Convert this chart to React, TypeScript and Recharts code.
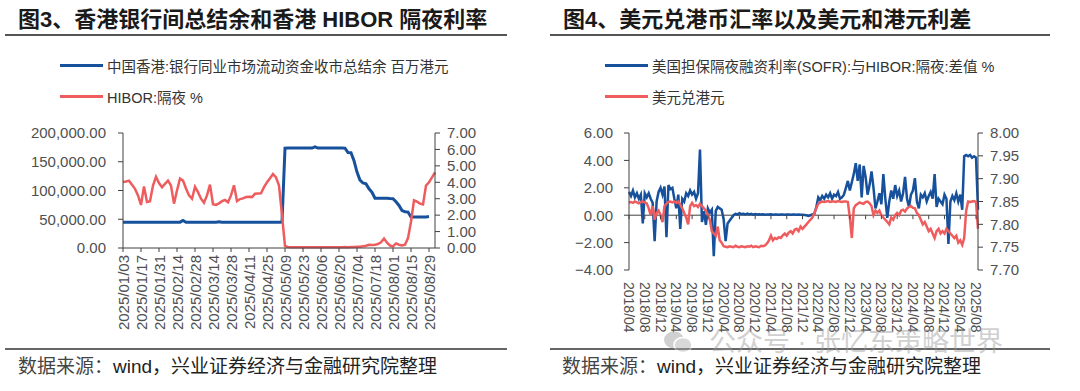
import React from "react"
import { LineChart, Line, XAxis, YAxis, ReferenceLine } from "recharts"

const FONT = '"Liberation Sans", Arial, "Noto Sans CJK SC", sans-serif'
const BLUE = "#17519C"
const RED = "#EE5C5E"
const AXIS = "#404040"
const TICK = "#505050"

// ---- 图3: HK aggregate balance vs HIBOR overnight (Mon/Wed/Fri samples) ----
const dates1 = [
  "2025/01/03", "2025/01/06", "2025/01/08", "2025/01/10", "2025/01/13", "2025/01/15", "2025/01/17", "2025/01/20", "2025/01/22", "2025/01/24", "2025/01/27", "2025/01/29", "2025/01/31",
  "2025/02/03", "2025/02/05", "2025/02/07", "2025/02/10", "2025/02/12", "2025/02/14", "2025/02/17", "2025/02/19", "2025/02/21", "2025/02/24", "2025/02/26", "2025/02/28",
  "2025/03/03", "2025/03/05", "2025/03/07", "2025/03/10", "2025/03/12", "2025/03/14", "2025/03/17", "2025/03/19", "2025/03/21", "2025/03/24", "2025/03/26", "2025/03/28", "2025/03/31",
  "2025/04/02", "2025/04/04", "2025/04/07", "2025/04/09", "2025/04/11", "2025/04/14", "2025/04/16", "2025/04/18", "2025/04/21", "2025/04/23", "2025/04/25", "2025/04/28", "2025/04/30",
  "2025/05/02", "2025/05/05", "2025/05/07", "2025/05/09", "2025/05/12", "2025/05/14", "2025/05/16", "2025/05/19", "2025/05/21", "2025/05/23", "2025/05/26", "2025/05/28", "2025/05/30",
  "2025/06/02", "2025/06/04", "2025/06/06", "2025/06/09", "2025/06/11", "2025/06/13", "2025/06/16", "2025/06/18", "2025/06/20", "2025/06/23", "2025/06/25", "2025/06/27", "2025/06/30",
  "2025/07/02", "2025/07/04", "2025/07/07", "2025/07/09", "2025/07/11", "2025/07/14", "2025/07/16", "2025/07/18", "2025/07/21", "2025/07/23", "2025/07/25", "2025/07/28", "2025/07/30",
  "2025/08/01", "2025/08/04", "2025/08/06", "2025/08/08", "2025/08/11", "2025/08/13", "2025/08/15", "2025/08/18", "2025/08/20", "2025/08/22", "2025/08/25", "2025/08/27", "2025/08/29",
  "2025/09/01", "2025/09/03",
]

const balance = [
  44800, 44750, 44800, 44900, 44800, 44700, 44800, 44850, 44800, 44750, 44800, 44900, 44800,
  44800, 44750, 44800, 44850, 44800, 44800, 44900, 47800, 44800, 44750, 44800, 44800,
  44800, 44850, 44800, 44750, 44800, 44800, 44900, 45600, 44800, 44750, 44800, 44800, 44800,
  44800, 44750, 44800, 44800, 44850, 44800, 44800, 44750, 44800, 44800, 44800, 44850, 44800,
  44800, 44800, 45000, 173500, 173800, 173800, 173700, 173800, 173800, 173900, 173800, 173800, 173800,
  176000, 173800, 173800, 173700, 173800, 173800, 173800, 173800, 173800, 173700, 173600, 166000, 165800,
  152000, 132000, 118000, 113000, 111500, 103000, 97000, 86500, 86500, 86500, 86500, 86500, 86000,
  85800, 80500, 74000, 65000, 63000, 62500, 54000, 53800, 53900, 54000, 54000, 54100, 54900,
  null, null,
]

const hibor = [
  4.02, 4.05, 4.1, 3.85, 3.6, 3.2, 2.62, 3.75, 2.8, 2.85, 3.8, 4.33, 3.95,
  3.7, 3.9, 4.1, 3.8, 2.7, 3.5, 4.23, 4.1, 3.62, 3.2, 3.0, 3.72,
  3.4, 3.0, 2.75, 3.2, 3.86, 2.66, 2.62, 2.72, 2.85, 2.92, 2.78, 3.2, 3.82,
  2.85, 2.98, 3.02, 3.1, 3.12, 3.1, 3.3, 3.32, 3.33, 3.7, 4.0, 4.25, 4.5,
  4.3, 3.8, 2.0, 0.12, 0.06, 0.05, 0.04, 0.05, 0.05, 0.04, 0.05, 0.05, 0.04,
  0.05, 0.05, 0.04, 0.05, 0.05, 0.04, 0.05, 0.05, 0.04, 0.05, 0.06, 0.05, 0.06,
  0.06, 0.07, 0.08, 0.1, 0.14, 0.2, 0.18, 0.2, 0.24, 0.35, 0.58, 0.32, 0.15,
  0.1, 0.28, 0.2, 0.15, 0.2, 0.6, 1.6, 2.9, 2.82, 2.7, 2.65, 3.8, 4.0,
  4.3, 4.6,
]

const balanceTicks = [0, 50000, 100000, 150000, 200000]
const hiborTicks = [0, 1, 2, 3, 4, 5, 6, 7]

// ---- 图4: SOFR-HIBOR spread vs USD/HKD (semi-monthly samples) ----
const dates2 = [
  "2018-04-01", "2018-04-16", "2018-05-01", "2018-05-16", "2018-06-01", "2018-06-16", "2018-07-01", "2018-07-16", "2018-08-01", "2018-08-16", "2018-09-01", "2018-09-16",
  "2018-10-01", "2018-10-16", "2018-11-01", "2018-11-16", "2018-12-01", "2018-12-16",
  "2019-01-01", "2019-01-16", "2019-02-01", "2019-02-16", "2019-03-01", "2019-03-16", "2019-04-01", "2019-04-16", "2019-05-01", "2019-05-16", "2019-06-01", "2019-06-16",
  "2019-07-01", "2019-07-16", "2019-08-01", "2019-08-16", "2019-09-01", "2019-09-16", "2019-10-01", "2019-10-16", "2019-11-01", "2019-11-16", "2019-12-01", "2019-12-16",
  "2020-01-01", "2020-01-16", "2020-02-01", "2020-02-16", "2020-03-01", "2020-03-16", "2020-04-01", "2020-04-16", "2020-05-01", "2020-05-16", "2020-06-01", "2020-06-16",
  "2020-07-01", "2020-07-16", "2020-08-01", "2020-08-16", "2020-09-01", "2020-09-16", "2020-10-01", "2020-10-16", "2020-11-01", "2020-11-16", "2020-12-01", "2020-12-16",
  "2021-01-01", "2021-01-16", "2021-02-01", "2021-02-16", "2021-03-01", "2021-03-16", "2021-04-01", "2021-04-16", "2021-05-01", "2021-05-16", "2021-06-01", "2021-06-16",
  "2021-07-01", "2021-07-16", "2021-08-01", "2021-08-16", "2021-09-01", "2021-09-16", "2021-10-01", "2021-10-16", "2021-11-01", "2021-11-16", "2021-12-01", "2021-12-16",
  "2022-01-01", "2022-01-16", "2022-02-01", "2022-02-16", "2022-03-01", "2022-03-16", "2022-04-01", "2022-04-16", "2022-05-01", "2022-05-16", "2022-06-01", "2022-06-16",
  "2022-07-01", "2022-07-16", "2022-08-01", "2022-08-16", "2022-09-01", "2022-09-16", "2022-10-01", "2022-10-16", "2022-11-01", "2022-11-16", "2022-12-01", "2022-12-16",
  "2023-01-01", "2023-01-16", "2023-02-01", "2023-02-16", "2023-03-01", "2023-03-16", "2023-04-01", "2023-04-16", "2023-05-01", "2023-05-16", "2023-06-01", "2023-06-16",
  "2023-07-01", "2023-07-16", "2023-08-01", "2023-08-16", "2023-09-01", "2023-09-16", "2023-10-01", "2023-10-16", "2023-11-01", "2023-11-16", "2023-12-01", "2023-12-16",
  "2024-01-01", "2024-01-16", "2024-02-01", "2024-02-16", "2024-03-01", "2024-03-16", "2024-04-01", "2024-04-16", "2024-05-01", "2024-05-16", "2024-06-01", "2024-06-16",
  "2024-07-01", "2024-07-16", "2024-08-01", "2024-08-16", "2024-09-01", "2024-09-16", "2024-10-01", "2024-10-16", "2024-11-01", "2024-11-16", "2024-12-01", "2024-12-16",
  "2025-01-01", "2025-01-16", "2025-02-01", "2025-02-16", "2025-03-01", "2025-03-16", "2025-04-01", "2025-04-16", "2025-05-01", "2025-05-16", "2025-06-01", "2025-06-16",
  "2025-07-01", "2025-07-16", "2025-08-01", "2025-08-16",
]

const spread = [
  1.7, 1.4, 1.8, 1.3, 1.6, 1.2, 1.5, -0.6, 1.6, 1.3,
  1.6, 1.2, 0.9, -1.9, 1.0, 1.7, 2.0, 1.5, 2.1, -1.6,
  2.2, 1.9, 2.0, 1.2, 0.5, 1.5, -1.0, 1.2, 1.0, 1.6,
  1.4, 1.8, 1.5, 1.7, 1.2, 1.6, 4.8, -0.5, 0.3, -0.7,
  0.5, 0.2, 0.4, -3.0, 0.3, 0.6, 0.5, 0.4, -0.3, -1.9,
  -0.6, -0.4, -0.2, 0.0, 0.1, 0.05, 0.15, 0.08, 0.1, 0.05,
  0.12, 0.06, 0.1, 0.04, 0.08, 0.05, 0.07, 0.05, 0.06, 0.04,
  0.05, 0.05, 0.06, 0.04, 0.05, 0.05, 0.04, 0.05, 0.05, 0.04,
  0.05, 0.05, 0.04, 0.05, 0.05, 0.04, 0.05, 0.04, 0.03, 0.02,
  0.0, -0.05, 0.0, 0.05, 0.1, 0.6, 1.3, 1.1, 1.4, 1.2,
  1.5, 1.3, 1.6, 1.2, 1.5, 1.4, 1.7, 1.2, 1.3, 1.5,
  2.0, 2.5, 1.8, 2.4, 3.0, 3.8, 2.5, 3.7, 1.3, 3.6,
  2.8, 1.5, 2.2, 3.2, 2.0, 0.5, 1.0, 1.6, 0.8, 3.0,
  1.2, -0.2, 1.0, 1.8, 1.2, 2.2, 1.4, 1.8, 1.0, 1.6,
  2.8, 1.2, 0.6, 1.5, 1.8, 2.7, 1.0, 0.5, 1.5, 1.3,
  1.6, 1.0, 1.4, 1.7, 1.2, 3.0, 0.6, 1.2, 1.0, 0.8,
  1.5, 1.2, -2.1, 1.0, 1.4, 1.1, 1.6, 1.0, 1.5, 0.4,
  4.3, 4.4, 4.3, 4.4, 4.2, 4.3, 4.2, 0.4,
]

const usdhkd = [
  7.848, 7.849, 7.847, 7.85, 7.848, 7.846, 7.849, 7.85, 7.848, 7.846,
  7.835, 7.82, 7.84, 7.81, 7.825, 7.83, 7.82, 7.805, 7.84, 7.845,
  7.849, 7.85, 7.848, 7.85, 7.847, 7.85, 7.843, 7.835, 7.825, 7.815,
  7.8, 7.84, 7.847, 7.84, 7.842, 7.838, 7.845, 7.84, 7.835, 7.83,
  7.82, 7.81, 7.785, 7.78, 7.775, 7.795, 7.765, 7.76, 7.752, 7.751,
  7.75, 7.752, 7.751, 7.75, 7.753, 7.751, 7.75, 7.752, 7.751, 7.75,
  7.752, 7.751, 7.753, 7.75, 7.752, 7.751, 7.75, 7.753, 7.752, 7.754,
  7.758, 7.765, 7.775, 7.765, 7.77, 7.768, 7.772, 7.77, 7.776, 7.78,
  7.775, 7.782, 7.785, 7.78, 7.788, 7.79, 7.785, 7.795, 7.79, 7.795,
  7.8, 7.805, 7.81, 7.815, 7.825, 7.835, 7.845, 7.848, 7.85, 7.849,
  7.85, 7.851, 7.849, 7.85, 7.85, 7.849, 7.851, 7.85, 7.849, 7.85,
  7.85, 7.849, 7.815, 7.77, 7.835, 7.842, 7.845, 7.848, 7.846, 7.845,
  7.849, 7.85, 7.846, 7.84, 7.82, 7.83, 7.825, 7.83, 7.82, 7.815,
  7.81, 7.805, 7.8, 7.815, 7.81, 7.82, 7.825, 7.82, 7.83, 7.832,
  7.828, 7.835, 7.838, 7.84, 7.836, 7.835, 7.825, 7.82, 7.81, 7.8,
  7.805, 7.795, 7.785, 7.79, 7.78, 7.77, 7.785, 7.79, 7.78, 7.785,
  7.78, 7.79, 7.785, 7.78, 7.775, 7.77, 7.775, 7.76, 7.765, 7.755,
  7.77, 7.83, 7.85, 7.849, 7.85, 7.851, 7.849, 7.79,
]

const spreadTicks = [-4, -2, 0, 2, 4, 6]
const fxTicks = [7.7, 7.75, 7.8, 7.85, 7.9, 7.95, 8.0]

const leftData = dates1.map((d, i) => ({ date: d, balance: balance[i], hibor: hibor[i] }))
const rightData = dates2.map((d, i) => ({ date: d, spread: spread[i], usdhkd: usdhkd[i] }))

// right chart plot geometry (chart-local), used for the zero-line tick marks
const R_TOP = 133
const R_BOTTOM = 270
const ZERO_Y = R_TOP + (R_BOTTOM - R_TOP) * (6 / 10)

const fmtThousands = (v: number) =>
  v.toLocaleString("en-US", { minimumFractionDigits: 2, maximumFractionDigits: 2 })
const fmt2 = (v: number) => (v < 0 ? "\u2212" + Math.abs(v).toFixed(2) : v.toFixed(2))

function LeftDateTick(props: any) {
  const { x, y, payload } = props
  return (
    <text
      x={x}
      y={y}
      transform={`rotate(-90 ${x} ${y})`}
      textAnchor="end"
      dominantBaseline="central"
      fill={TICK}
      fontSize={15}
      fontFamily={FONT}
    >
      {payload.value}
    </text>
  )
}

function RightDateTick(props: any) {
  const { x, y, payload } = props
  const label = String(payload.value).slice(0, 7).replace("-", "/")
  return (
    <g>
      <line x1={x} x2={x} y1={ZERO_Y} y2={ZERO_Y + 4} stroke={AXIS} strokeWidth={1} />
      <text
        x={x}
        y={y}
        transform={`rotate(90 ${x} ${y})`}
        textAnchor="start"
        dominantBaseline="central"
        fill={TICK}
        fontSize={14}
        fontFamily={FONT}
      >
        {label}
      </text>
    </g>
  )
}

const abs = (s: React.CSSProperties): React.CSSProperties => ({ position: "absolute", ...s })

function LegendRow({ left, top, color, text }: { left: number; top: number; color: string; text: string }) {
  return (
    <div style={abs({ left, top, height: 20, display: "flex", alignItems: "center" })}>
      <div style={{ width: 43, height: 3, background: color }} />
      <span style={{ marginLeft: 4, fontSize: 14.5, color: "#333", fontFamily: FONT, whiteSpace: "nowrap" }}>{text}</span>
    </div>
  )
}

function Title({ left, text }: { left: number; text: string }) {
  return (
    <div
      style={abs({
        left,
        top: 6,
        fontSize: 22,
        lineHeight: "28px",
        fontWeight: 700,
        color: "#1a1a1a",
        fontFamily: FONT,
        whiteSpace: "nowrap",
      })}
    >
      {text}
    </div>
  )
}

function Source({ left }: { left: number }) {
  return (
    <div style={abs({ left, top: 356, fontSize: 19, lineHeight: "22px", fontFamily: FONT, whiteSpace: "nowrap", color: "#222" })}>
      <span style={{ color: "#444" }}>数据来源：</span>wind，兴业证券经济与金融研究院整理
    </div>
  )
}

export default function App() {
  const tickStyle = { fill: TICK, fontSize: 15, fontFamily: FONT }
  return (
    <div style={{ position: "relative", width: 1080, height: 391, background: "#fff", overflow: "hidden" }}>
      <style>{"body{margin:0}"}</style>

      {/* left panel */}
      <Title left={18} text="图3、香港银行间总结余和香港 HIBOR 隔夜利率" />
      <div style={abs({ left: 5, top: 34, width: 502, height: 2, background: "#555" })} />
      <LegendRow left={60} top={55} color={BLUE} text="中国香港:银行同业市场流动资金收市总结余 百万港元" />
      <LegendRow left={60} top={86} color={RED} text="HIBOR:隔夜 %" />
      <div style={abs({ left: 0, top: 0 })}>
        <LineChart width={540} height={391} data={leftData} margin={{ top: 133, right: 44, bottom: 43, left: 0 }}>
          <XAxis
            dataKey="date"
            interval={5}
            height={100}
            tickSize={4}
            tickMargin={3}
            axisLine={{ stroke: AXIS }}
            tickLine={{ stroke: AXIS }}
            tick={<LeftDateTick />}
          />
          <YAxis
            yAxisId="l"
            domain={[0, 200000]}
            ticks={balanceTicks}
            interval={0}
            width={123}
            tickSize={5}
            tickMargin={12}
            axisLine={{ stroke: AXIS }}
            tickLine={{ stroke: AXIS }}
            tick={tickStyle}
            tickFormatter={fmtThousands}
          />
          <YAxis
            yAxisId="r"
            orientation="right"
            domain={[0, 7]}
            ticks={hiborTicks}
            interval={0}
            width={61}
            tickSize={5}
            tickMargin={7}
            axisLine={{ stroke: AXIS }}
            tickLine={{ stroke: AXIS }}
            tick={tickStyle}
            tickFormatter={fmt2}
          />
          <Line yAxisId="l" dataKey="balance" stroke={BLUE} strokeWidth={3} dot={false} isAnimationActive={false} />
          <Line yAxisId="r" dataKey="hibor" stroke={RED} strokeWidth={2.5} dot={false} isAnimationActive={false} />
        </LineChart>
      </div>
      <div style={abs({ left: 5, top: 348, width: 502, height: 2, background: "#666" })} />
      <Source left={18} />

      {/* right panel */}
      <Title left={563} text="图4、美元兑港币汇率以及美元和港元利差" />
      <div style={abs({ left: 550, top: 34, width: 500, height: 2, background: "#555" })} />
      <LegendRow left={605} top={55} color={BLUE} text="美国担保隔夜融资利率(SOFR):与HIBOR:隔夜:差值 %" />
      <LegendRow left={605} top={86} color={RED} text="美元兑港元" />
      <div style={abs({ left: 540, top: 0 })}>
        <LineChart width={540} height={391} data={rightData} margin={{ top: R_TOP, right: 42, bottom: 41, left: 0 }}>
          <XAxis
            dataKey="date"
            interval={7}
            height={80}
            tickSize={0}
            tickMargin={12}
            axisLine={false}
            tickLine={false}
            tick={<RightDateTick />}
          />
          <YAxis
            yAxisId="l"
            domain={[-4, 6]}
            ticks={spreadTicks}
            interval={0}
            width={89}
            tickSize={5}
            tickMargin={11}
            axisLine={{ stroke: AXIS }}
            tickLine={{ stroke: AXIS }}
            tick={tickStyle}
            tickFormatter={fmt2}
          />
          <YAxis
            yAxisId="r"
            orientation="right"
            domain={[7.7, 8.0]}
            ticks={fxTicks}
            interval={0}
            width={60}
            tickSize={5}
            tickMargin={7}
            axisLine={{ stroke: AXIS }}
            tickLine={{ stroke: AXIS }}
            tick={tickStyle}
            tickFormatter={fmt2}
          />
          <ReferenceLine yAxisId="l" y={0} stroke={AXIS} strokeWidth={1} />
          <Line yAxisId="l" dataKey="spread" stroke={BLUE} strokeWidth={2.5} dot={false} isAnimationActive={false} />
          <Line yAxisId="r" dataKey="usdhkd" stroke={RED} strokeWidth={2.5} dot={false} isAnimationActive={false} />
        </LineChart>
      </div>
      <div style={abs({ left: 550, top: 348, width: 500, height: 2, background: "#666" })} />
      <Source left={562} />

      {/* watermark */}
      <div style={abs({ left: 663, top: 330, height: 25, display: "flex", alignItems: "center", opacity: 0.45 })}>
        <svg width={30} height={25}>
          <ellipse cx={11} cy={10} rx={10} ry={8.5} fill="#999" />
          <ellipse cx={20} cy={15} rx={9} ry={7.5} fill="#aaa" stroke="#fff" strokeWidth={1.5} />
        </svg>
        <span style={{ marginLeft: 16, fontSize: 27, color: "#999", fontFamily: FONT, whiteSpace: "nowrap", lineHeight: "25px" }}>
          公众号 · 张忆东策略世界
        </span>
      </div>
    </div>
  )
}
